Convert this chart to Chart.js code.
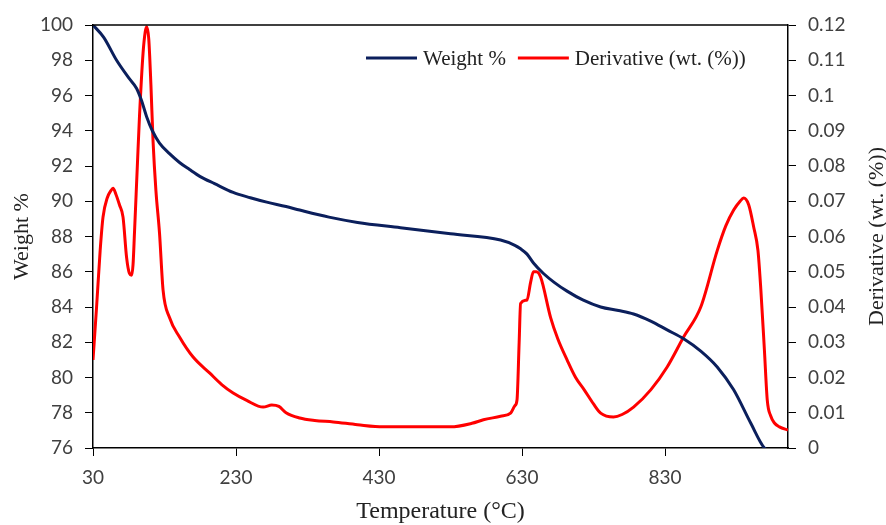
<!DOCTYPE html>
<html>
<head>
<meta charset="utf-8">
<script src="https://cdn.jsdelivr.net/npm/chart.js@4"></script>
<style>
  html, body { margin: 0; padding: 0; background: #fff; }
  #wrap { width: 886px; height: 525px; }
</style>
</head>
<body>
<div id="wrap"><canvas class="js-chart" width="886" height="525"></canvas></div>
<script>
const ctx = document.querySelector('.js-chart').getContext('2d');

const X_TICKS = [30, 230, 430, 630, 830];
const WEIGHT_TICKS = [76, 78, 80, 82, 84, 86, 88, 90, 92, 94, 96, 98, 100];
const DERIV_TICKS = [0, 0.01, 0.02, 0.03, 0.04, 0.05, 0.06, 0.07, 0.08, 0.09, 0.1, 0.11, 0.12];

const weightTemp = [30, 45, 63, 80, 91, 98, 105, 113, 123, 137, 151, 165, 180, 200, 226, 250, 273, 300, 319, 360, 400, 460, 530, 600, 620, 628, 637, 646, 660, 675, 693, 715, 740, 765, 786, 810, 833, 856, 880, 903, 926, 950, 969, 980, 1002];
const weightValue = [100, 99.3, 98, 97, 96.4, 95.7, 94.8, 94, 93.3, 92.7, 92.2, 91.8, 91.4, 91, 90.5, 90.2, 89.95, 89.7, 89.5, 89.1, 88.8, 88.5, 88.15, 87.8, 87.5, 87.3, 87, 86.5, 85.9, 85.4, 84.9, 84.4, 84, 83.8, 83.6, 83.2, 82.7, 82.2, 81.5, 80.6, 79.3, 77.4, 76, 75.8, 75.6];

const derivTemp = [30, 35, 40, 44, 50, 55, 58, 62, 67, 72, 77, 81, 84, 86, 88, 92, 95, 100, 103, 105, 108, 111, 114, 118, 123, 128, 137, 151, 170, 193, 210, 226, 245, 268, 280, 290, 300, 319, 340, 366, 400, 436, 480, 530, 560, 576, 600, 614, 620, 623, 626, 628, 637, 642, 646, 650, 656, 670, 680, 693, 705, 717, 730, 740, 758, 770, 786, 810, 833, 856, 880, 903, 915, 926, 935, 940, 947, 954, 960, 964, 969, 973, 978, 983, 990, 1002];
const derivValue = [0.025, 0.04, 0.056, 0.0655, 0.071, 0.073, 0.0737, 0.072, 0.069, 0.0655, 0.054, 0.0495, 0.049, 0.052, 0.061, 0.08, 0.094, 0.112, 0.118, 0.1195, 0.116, 0.103, 0.087, 0.073, 0.061, 0.0448, 0.037, 0.0315, 0.0258, 0.0213, 0.018, 0.0156, 0.0135, 0.0116, 0.0122, 0.0118, 0.01, 0.0085, 0.0078, 0.0074, 0.0066, 0.006, 0.006, 0.006, 0.007, 0.008, 0.009, 0.0099, 0.012, 0.0136, 0.03, 0.041, 0.042, 0.047, 0.05, 0.05, 0.0485, 0.037, 0.031, 0.025, 0.02, 0.0165, 0.0125, 0.0099, 0.0088, 0.0095, 0.0116, 0.0165, 0.023, 0.0315, 0.04, 0.056, 0.063, 0.0675, 0.07, 0.0709, 0.069, 0.0627, 0.056, 0.045, 0.0278, 0.0136, 0.009, 0.0071, 0.006, 0.0051];

const NAVY = '#0b1f5c';
const RED = '#ff0000';
const SERIF = '"Liberation Serif", "Times New Roman", serif';

function toPoints(xs, ys) {
    return xs.map((x, i) => ({ x, y: ys[i] }));
}

// axis titles, top border and legend drawn by hand
const extras = {
    id: 'extras',
    afterDraw(chart) {
        const c = chart.ctx;
        const area = chart.chartArea;
        c.save();
        c.strokeStyle = '#000';
        c.lineWidth = 1.5;
        c.beginPath();
        c.moveTo(area.left, area.top);
        c.lineTo(area.right, area.top);
        c.stroke();

        c.fillStyle = '#222';
        c.textAlign = 'center';
        c.textBaseline = 'middle';
        c.font = '24px ' + SERIF;
        c.fillText('Temperature (°C)', (area.left + area.right) / 2, 512);

        c.font = '22px ' + SERIF;
        const midY = (area.top + area.bottom) / 2;
        c.save();
        c.translate(22, midY);
        c.rotate(-Math.PI / 2);
        c.fillText('Weight %', 0, 0);
        c.restore();
        c.save();
        c.translate(877, midY);
        c.rotate(-Math.PI / 2);
        c.fillText('Derivative (wt. (%))', 0, 0);
        c.restore();

        // legend
        c.font = '21px ' + SERIF;
        c.textAlign = 'left';
        const items = chart.data.datasets;
        let x = 366;
        const y = 58;
        items.forEach(ds => {
            c.strokeStyle = ds.borderColor;
            c.lineWidth = 3;
            c.beginPath();
            c.moveTo(x, y);
            c.lineTo(x + 51, y);
            c.stroke();
            c.fillStyle = '#222';
            c.fillText(ds.label, x + 57, y + 1);
            x += 57 + c.measureText(ds.label).width + 12;
        });
        c.restore();
    }
};

const tickFont = { family: 'Lato, "Open Sans", sans-serif', size: 19 };

new Chart(ctx, {
    type: 'line',
    data: {
        datasets: [{
            label: 'Weight %',
            data: toPoints(weightTemp, weightValue),
            borderColor: NAVY,
            borderWidth: 3,
            pointRadius: 0,
            cubicInterpolationMode: 'monotone',
            yAxisID: 'y',
            fill: false,
        }, {
            label: 'Derivative (wt. (%))',
            data: toPoints(derivTemp, derivValue),
            borderColor: RED,
            borderWidth: 3,
            pointRadius: 0,
            cubicInterpolationMode: 'monotone',
            yAxisID: 'y1',
            fill: false,
        }]
    },
    options: {
        responsive: false,
        animation: false,
        layout: { padding: { top: 25 } },
        plugins: { legend: { display: false }, tooltip: { enabled: false } },
        scales: {
            x: {
                type: 'linear',
                min: 30,
                max: 1002,
                afterBuildTicks(scale) { scale.ticks = X_TICKS.map(value => ({ value })); },
                afterFit(scale) { scale.height = 77; },
                grid: { drawOnChartArea: false, tickLength: 8, color: '#000' },
                border: { color: '#000', width: 1.5 },
                ticks: { font: tickFont, color: '#404040', padding: 10, maxRotation: 0 }
            },
            y: {
                position: 'left',
                min: 76,
                max: 100,
                afterBuildTicks(scale) { scale.ticks = WEIGHT_TICKS.map(value => ({ value })); },
                afterFit(scale) { scale.width = 93; },
                grid: { drawOnChartArea: false, tickLength: 8, color: '#000' },
                border: { color: '#000', width: 1.5 },
                ticks: { font: tickFont, color: '#404040', padding: 12 }
            },
            y1: {
                position: 'right',
                min: 0,
                max: 0.12,
                afterBuildTicks(scale) { scale.ticks = DERIV_TICKS.map(value => ({ value })); },
                afterFit(scale) { scale.width = 98; },
                grid: { drawOnChartArea: false, tickLength: 8, color: '#000' },
                border: { color: '#000', width: 1.5 },
                ticks: {
                    font: tickFont,
                    color: '#404040',
                    padding: 12,
                    callback(value) { return String(+value.toFixed(2)); }
                }
            }
        }
    },
    plugins: [extras]
});
</script>
</body>
</html>
